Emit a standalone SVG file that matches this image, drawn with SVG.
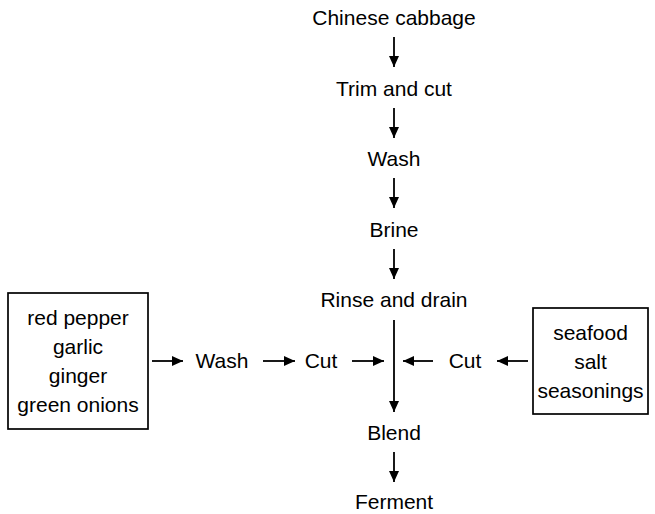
<svg xmlns="http://www.w3.org/2000/svg" width="655" height="514" viewBox="0 0 655 514">
  <style>
    text { font-family: "Liberation Sans", Arial, sans-serif; font-size: 21px; fill: #000; text-anchor: middle; }
    .box { fill: #fff; stroke: #000; stroke-width: 1.7; }
    .flow { stroke: #000; stroke-width: 1.8; fill: none; marker-end: url(#head); }
  </style>
  <defs>
    <marker id="head" viewBox="0 0 11 10" refX="11" refY="5" markerWidth="11" markerHeight="10" markerUnits="userSpaceOnUse" orient="auto">
      <path d="M0,0 L11,5 L0,10 Z" fill="#000"/>
    </marker>
  </defs>

  <rect width="655" height="514" fill="#fff"/>

  <!-- main process column -->
  <g id="cabbage"><text x="394" y="25">Chinese cabbage</text></g>
  <g id="trim"><text x="394" y="96">Trim and cut</text></g>
  <g id="wash-main"><text x="394" y="166">Wash</text></g>
  <g id="brine"><text x="394" y="237">Brine</text></g>
  <g id="rinse"><text x="394" y="307">Rinse and drain</text></g>
  <g id="blend"><text x="394" y="440">Blend</text></g>
  <g id="ferment"><text x="394" y="509">Ferment</text></g>

  <!-- vegetable ingredients branch -->
  <g id="vegetables">
    <rect class="box" x="8" y="293" width="140" height="136"/>
    <text x="78" y="325">red pepper</text>
    <text x="78" y="354">garlic</text>
    <text x="78" y="383">ginger</text>
    <text x="78" y="412">green onions</text>
  </g>
  <g id="wash-veg"><text x="222" y="368">Wash</text></g>
  <g id="cut-veg"><text x="321" y="368">Cut</text></g>

  <!-- seafood ingredients branch -->
  <g id="seafood">
    <rect class="box" x="533" y="308" width="115" height="106"/>
    <text x="590.5" y="340">seafood</text>
    <text x="590.5" y="369">salt</text>
    <text x="590.5" y="398">seasonings</text>
  </g>
  <g id="cut-sea"><text x="465" y="368">Cut</text></g>

  <!-- connectors -->
  <g id="connectors">
    <line class="flow" x1="394" y1="37" x2="394" y2="67"/>
    <line class="flow" x1="394" y1="108" x2="394" y2="138"/>
    <line class="flow" x1="394" y1="178" x2="394" y2="208"/>
    <line class="flow" x1="394" y1="249" x2="394" y2="279"/>
    <line class="flow" x1="394" y1="320" x2="394" y2="412"/>
    <line class="flow" x1="394" y1="452" x2="394" y2="482"/>

    <line class="flow" x1="152" y1="361" x2="183" y2="361"/>
    <line class="flow" x1="263" y1="361" x2="295" y2="361"/>
    <line class="flow" x1="352" y1="361" x2="384" y2="361"/>

    <line class="flow" x1="433" y1="361" x2="403" y2="361"/>
    <line class="flow" x1="528" y1="361" x2="497" y2="361"/>
  </g>
</svg>
